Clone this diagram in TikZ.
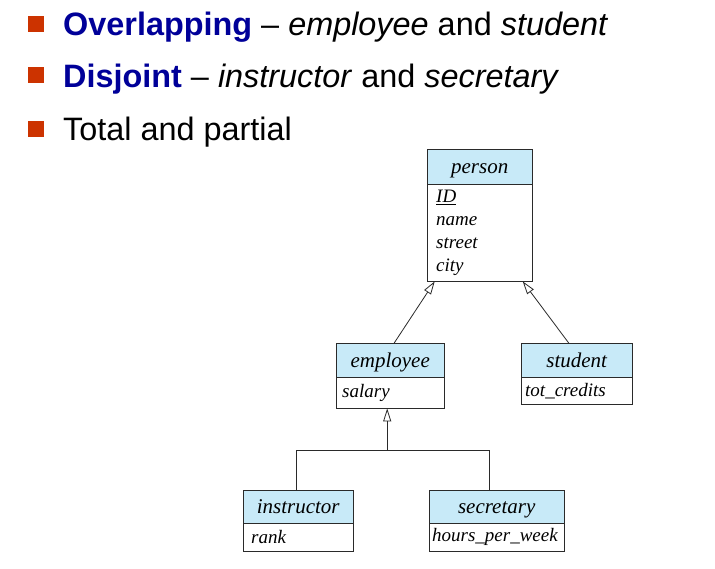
\documentclass[tikz,border=0pt]{standalone}
\usepackage{fontspec}
\setmainfont{Liberation Sans}
\newfontfamily\umlfont{Liberation Serif}
\usetikzlibrary{arrows.meta,calc}
\definecolor{navy}{HTML}{000099}
\definecolor{bulletred}{HTML}{CC3300}
\definecolor{hdrblue}{HTML}{C8EAF8}
\definecolor{edge}{HTML}{2A2A2A}

\begin{document}
\begin{tikzpicture}[x=1pt,y=-1pt,
  bullet/.style={fill=bulletred, minimum size=16pt, inner sep=0pt},
  item/.style={anchor=base west, inner sep=0pt, font=\fontsize{32.4}{38}\selectfont},
  hdr/.style={draw=edge, fill=hdrblue, anchor=north west, inner sep=0pt,
    text height=15pt, text depth=1pt,
    font=\umlfont\itshape\fontsize{21}{24}\selectfont},
  attrs/.style={draw=edge, anchor=north west, inner ysep=0pt, align=left,
    font=\umlfont\itshape\fontsize{19}{23}\selectfont},
  isa/.style={draw=edge, line width=0.8pt, -{Triangle[open, length=13pt, width=8pt]}},
  link/.style={draw=edge, line width=0.8pt}]

\useasboundingbox[fill=white] (0,0) rectangle (715,568);

% bullet list
\node[bullet] (b1) at (36,24) {};
\node[item] (t1) at (63,35) {\textcolor{navy}{\textbf{Overlapping}} – \textit{employee} and \textit{student}};
\node[bullet] (b2) at (36,75) {};
\node[item] (t2) at (63,87) {\textcolor{navy}{\textbf{Disjoint}} – \textit{instructor} and \textit{secretary}};
\node[bullet] (b3) at (36,129) {};
\node[item] (t3) at (63,140) {Total and partial};

% classes: header with the class name, body with its attributes
\node[hdr, minimum width=105pt, minimum height=35pt] (personh) at (427,149) {person};
\node[attrs, inner xsep=9pt, text width=87pt, minimum height=97pt] (personb) at (427,184)
  {\underline{ID}\\name\\street\\city};

\node[hdr, minimum width=108pt, minimum height=34pt] (emph) at (336,343) {employee};
\node[attrs, inner xsep=6pt, text width=96pt, minimum height=31pt] (empb) at (336,377) {salary};

\node[hdr, minimum width=111pt, minimum height=34pt] (studh) at (521,343) {student};
\node[attrs, inner xsep=4pt, text width=103pt, minimum height=27pt] (studb) at (521,377) {tot\_credits};

\node[hdr, minimum width=110pt, minimum height=33pt] (insth) at (243,490) {instructor};
\node[attrs, inner xsep=8pt, text width=94pt, minimum height=28pt] (instb) at (243,523) {rank};

\node[hdr, minimum width=135pt, minimum height=33pt] (sech) at (429,490) {secretary};
\node[attrs, inner xsep=3pt, text width=129pt, minimum height=28pt] (secb) at (429,523) {hours\_per\_week};

% generalisation links
\draw[isa] ($(emph.north)+(4,0)$) -- ($(personb.south)+(-45,0)$);
\draw[isa] ($(studh.north)+(-8,0)$) -- ($(personb.south)+(43,0)$);

\coordinate (split) at ($(empb.south)+(-3,42)$);
\draw[isa] (split) -- ($(empb.south)+(-3,0)$);
\draw[link] ($(insth.north)+(-2,0)$) |- (split) -| ($(sech.north)+(-7,0)$);
\end{tikzpicture}
\end{document}
